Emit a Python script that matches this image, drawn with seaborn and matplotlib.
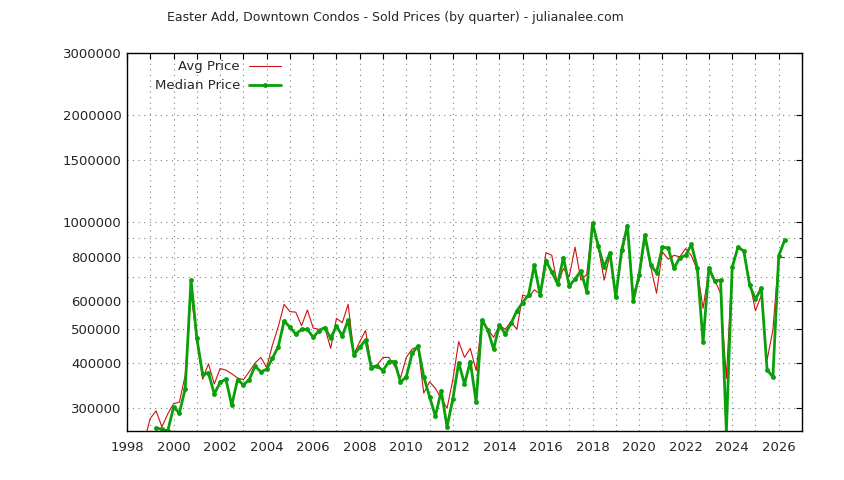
import matplotlib
matplotlib.use("Agg")
import matplotlib.pyplot as plt
import matplotlib.ticker as mticker
import numpy as np
import pandas as pd
import seaborn as sns

# quarterly series, 1998Q4 .. 2026Q2
quarters = pd.period_range("1998Q4", "2026Q2", freq="Q")

avg_price = [
    243000, 280000, 294000, 265000, 288000, 308000, 311000, 370000, 631000, 466000,
    361000, 399000, 350000, 387000, 383000, 374000, 364000, 360000, 379000, 401000,
    416000, 390000, 451000, 508000, 587000, 560000, 558000, 511000, 566000, 503000,
    499000, 505000, 441000, 536000, 521000, 587000, 425000, 461000, 495000, 393000,
    396000, 416000, 416000, 393000, 364000, 416000, 439000, 446000, 330000, 355000,
    340000, 319000, 299000, 360000, 461000, 416000, 441000, 382000, 530000, 499000,
    474000, 513000, 499000, 525000, 499000, 624000, 614000, 645000, 627000, 821000,
    807000, 665000, 741000, 702000, 851000, 687000, 713000, 995000, 851000, 687000,
    811000, 627000, 807000, 968000, 631000, 687000, 899000, 750000, 631000, 825000,
    787000, 807000, 799000, 843000, 804000, 733000, 572000, 733000, 687000, 631000,
    363000, 749000, 846000, 825000, 679000, 563000, 622000, 409000, 497000, 798000,
    795000,
]

median_price = [
    np.nan, np.nan, 263000, 261000, 258000, 301000, 290000, 339000, 688000, 471000,
    373000, 376000, 328000, 354000, 361000, 305000, 360000, 348000, 360000, 393000,
    379000, 385000, 414000, 446000, 527000, 506000, 484000, 499000, 499000, 474000,
    495000, 505000, 471000, 510000, 478000, 530000, 423000, 444000, 466000, 388000,
    393000, 382000, 405000, 405000, 354000, 367000, 427000, 448000, 367000, 322000,
    284000, 335000, 265000, 318000, 402000, 350000, 405000, 311000, 530000, 497000,
    439000, 513000, 484000, 519000, 563000, 594000, 624000, 757000, 624000, 778000,
    725000, 670000, 795000, 661000, 692000, 729000, 638000, 995000, 855000, 749000,
    820000, 614000, 834000, 979000, 600000, 710000, 922000, 757000, 721000, 851000,
    846000, 741000, 795000, 807000, 866000, 744000, 459000, 744000, 683000, 687000,
    257000, 746000, 851000, 830000, 665000, 607000, 652000, 384000, 366000, 804000,
    889000,
]

y_ticks = [300000, 400000, 500000, 600000, 800000, 1000000, 1500000, 2000000, 3000000]
y_minor = [700000, 900000]

df = pd.DataFrame({"quarter": quarters, "avg": avg_price, "median": median_price})
df["t"] = df["quarter"].dt.year + (df["quarter"].dt.quarter - 1) / 4

red = "#d01010"
green = "#0aa00a"

sns.set_style("white")
plt.rcParams["font.family"] = ["DejaVu Sans"]

fig = plt.figure(figsize=(8.44, 4.80), dpi=100)
ax = fig.add_axes([127 / 844, 1 - 431 / 480, 675 / 844, 378 / 480])

sns.lineplot(data=df, x="t", y="avg", ax=ax, color=red, linewidth=0.8, legend=False)
sns.lineplot(data=df, x="t", y="median", ax=ax, color=green, linewidth=2.0,
             marker="o", markersize=3.5, markeredgewidth=0, legend=False)

ax.set_yscale("log")
ax.set_xlim(1998, 2027)
ax.set_ylim(258000, 3000000)
ax.set_xlabel("")
ax.set_ylabel("")

ax.yaxis.set_major_locator(mticker.FixedLocator(y_ticks))
ax.yaxis.set_major_formatter(mticker.FuncFormatter(lambda v, p: f"{v:.0f}"))
ax.yaxis.set_minor_locator(mticker.FixedLocator(y_minor))
ax.yaxis.set_minor_formatter(mticker.NullFormatter())

ax.xaxis.set_major_locator(mticker.MultipleLocator(1))
ax.xaxis.set_major_formatter(
    mticker.FuncFormatter(lambda v, p: f"{v:.0f}" if round(v) % 2 == 0 else ""))

ax.grid(True, which="both", linestyle=(0, (1, 4)), color="#808080", linewidth=0.8)
ax.tick_params(which="both", direction="in", top=True, right=True, labelsize=9.5,
               color="black")
ax.tick_params(axis="x", which="major", length=4.5, pad=7)
ax.tick_params(axis="y", which="major", length=4.5, pad=4)
ax.tick_params(axis="y", which="minor", length=2.5)
for s in ax.spines.values():
    s.set_color("black")
    s.set_linewidth(1.0)

# gnuplot style key: right aligned text, sample line after it
ax.text(0.1674, 0.9656, "Avg Price", transform=ax.transAxes, ha="right", va="center",
        fontsize=9.5)
ax.text(0.1674, 0.9153, "Median Price", transform=ax.transAxes, ha="right", va="center",
        fontsize=9.5)
ax.plot([0.1807, 0.2281], [0.9656, 0.9656], transform=ax.transAxes, color=red,
        linewidth=0.8)
ax.plot([0.1807, 0.2281], [0.9153, 0.9153], transform=ax.transAxes, color=green,
        linewidth=2.0)
ax.plot([0.2044], [0.9153], transform=ax.transAxes, color=green, marker="o",
        markersize=3.5, markeredgewidth=0)

fig.text(395 / 844, 1 - 18 / 480,
         "Easter Add, Downtown Condos - Sold Prices (by quarter) - julianalee.com",
         ha="center", va="center", fontsize=9)

fig.savefig("out.png", dpi=100)
